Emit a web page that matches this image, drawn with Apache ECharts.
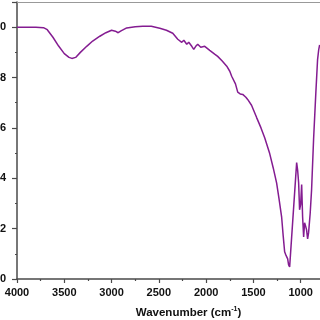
<!DOCTYPE html>
<html>
<head>
<meta charset="utf-8">
<script src="https://cdn.jsdelivr.net/npm/echarts@6/dist/echarts.min.js"></script>
<style>
  html, body { margin: 0; padding: 0; background: #fff; }
  #chart { width: 320px; height: 320px; }
</style>
</head>
<body>
<div id="chart"></div>
<script>
// wavenumber (cm-1)
const wavenumbers = [
  4000, 3800, 3720, 3680, 3620, 3560, 3500, 3450, 3420, 3380, 3330, 3260, 3200, 3124, 3060,
  3000, 2960, 2930, 2900, 2840, 2750, 2670, 2580, 2490, 2420, 2353, 2300, 2258, 2236, 2205,
  2184, 2152, 2131, 2110, 2089, 2057, 2015, 1962, 1910, 1878, 1830, 1782, 1750, 1730, 1715,
  1690, 1666, 1640, 1613, 1580, 1561, 1520, 1466, 1420, 1380, 1328, 1290, 1255, 1230, 1202,
  1185, 1170, 1160, 1149, 1138, 1128, 1117, 1043, 1032, 1022, 1012, 1001, 990, 980, 969,
  959, 948, 938, 927, 917, 900, 885, 864, 840, 822, 810, 800
]
// normalised transmittance
const transmittance = [
  1.0, 1.0, 0.998, 0.99, 0.96, 0.925, 0.895, 0.88, 0.876, 0.88, 0.9, 0.925, 0.945, 0.964, 0.978,
  0.988, 0.984, 0.978, 0.985, 0.997, 1.002, 1.004, 1.004, 0.996, 0.988, 0.976, 0.952, 0.94, 0.948, 0.932,
  0.94, 0.924, 0.912, 0.924, 0.932, 0.92, 0.924, 0.908, 0.893, 0.884, 0.866, 0.845, 0.825, 0.805, 0.8,
  0.775, 0.742, 0.735, 0.733, 0.722, 0.713, 0.69, 0.641, 0.6, 0.56, 0.498, 0.44, 0.382, 0.32, 0.247,
  0.17, 0.108, 0.098, 0.104, 0.08, 0.056, 0.048, 0.462, 0.43, 0.382, 0.275, 0.295, 0.375, 0.247, 0.167,
  0.223, 0.21, 0.195, 0.159, 0.183, 0.26, 0.355, 0.554, 0.74, 0.87, 0.91, 0.93
]

const chart = echarts.init(document.getElementById('chart'))
const labelFont = { fontFamily: 'Liberation Sans', fontWeight: 'bold', fontSize: 11, color: '#111' }

chart.setOption({
  backgroundColor: '#fff',
  animation: false,
  grid: {
    left: 17,
    right: -28,
    top: 2,
    bottom: 41,
    outerBoundsMode: 'none',
    containLabel: false
  },
  xAxis: [{
    type: 'value',
    inverse: true,
    min: 500,
    max: 4000,
    interval: 500,
    splitLine: { show: false },
    axisLine: { onZero: false, lineStyle: { color: '#4a4a4a', width: 1.5 } },
    axisTick: { length: 4, lineStyle: { color: '#4a4a4a', width: 1.2 } },
    minorTick: { show: true, splitNumber: 2, length: 2, lineStyle: { color: '#4a4a4a', width: 1.2 } },
    axisLabel: Object.assign({
      margin: 8,
      formatter: function (v) {
        return v < 1000 ? '' : String(v)
      }
    }, labelFont),
    name: 'Wavenumber (cm{sup|-1})',
    nameLocation: 'middle',
    nameGap: 27,
    nameTextStyle: {
      fontFamily: 'Liberation Sans',
      fontWeight: 'bold',
      fontSize: 11.5,
      color: '#111',
      padding: [0, 0, 0, 12],
      rich: {
        sup: { fontFamily: 'Liberation Sans', fontWeight: 'bold', fontSize: 7, color: '#111', padding: [0, 0, 7, 0] }
      }
    }
  }, {
    type: 'value',
    position: 'top',
    inverse: true,
    min: 500,
    max: 4000,
    splitLine: { show: false },
    axisLine: { show: true, onZero: false, lineStyle: { color: '#999', width: 1 } },
    axisTick: { show: false },
    axisLabel: { show: false }
  }],
  yAxis: {
    type: 'value',
    min: 0,
    max: 1.1,
    interval: 0.2,
    splitLine: { show: false },
    axisLine: { show: true, lineStyle: { color: '#4a4a4a', width: 1.5 } },
    axisTick: { length: 5, lineStyle: { color: '#4a4a4a', width: 1.2 } },
    minorTick: { show: true, splitNumber: 2, length: 2, lineStyle: { color: '#4a4a4a', width: 1.2 } },
    axisLabel: Object.assign({
      margin: 11,
      formatter: function (v) {
        if (v > 1.05) return ''
        return v.toFixed(1)
      }
    }, labelFont)
  },
  series: [{
    type: 'line',
    xAxisIndex: 0,
    showSymbol: false,
    smooth: false,
    lineStyle: { color: '#841c91', width: 1.5 },
    data: wavenumbers.map((w, i) => [w, transmittance[i]])
  }]
})
</script>
</body>
</html>
